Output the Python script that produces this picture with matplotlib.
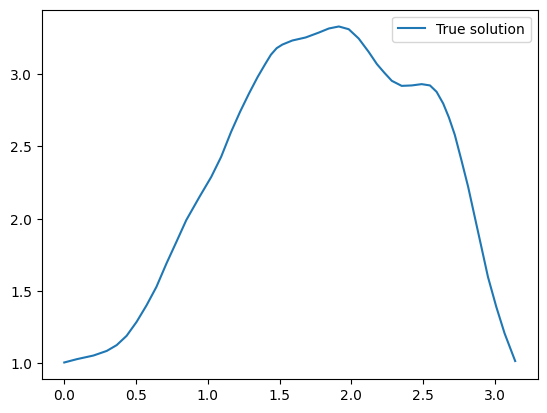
import matplotlib
matplotlib.use('Agg')
import matplotlib.pyplot as plt

# values
x = [0.0, 0.088, 0.203, 0.296, 0.365, 0.434, 0.504, 0.573, 0.642, 0.712,
     0.781, 0.85, 0.942, 1.024, 1.093, 1.162, 1.225, 1.287, 1.347, 1.40,
     1.44, 1.48, 1.52, 1.589, 1.682, 1.774, 1.843, 1.913, 1.982, 2.051, 2.121,
     2.178, 2.230, 2.282, 2.351, 2.421, 2.49, 2.548, 2.594, 2.64, 2.68,
     2.721, 2.767, 2.814, 2.86, 2.906, 2.952, 3.01, 3.068, 3.125, 3.1416]
y = [1.005, 1.028, 1.053, 1.085, 1.125, 1.189, 1.286, 1.40, 1.528, 1.69,
     1.839, 1.99, 2.151, 2.289, 2.428, 2.60, 2.74, 2.866, 2.98, 3.07,
     3.135, 3.18, 3.205, 3.233, 3.254, 3.288, 3.316, 3.33, 3.311, 3.247, 3.154,
     3.07, 3.01, 2.954, 2.919, 2.922, 2.931, 2.922, 2.878, 2.797, 2.70,
     2.58, 2.405, 2.22, 2.012, 1.805, 1.597, 1.39, 1.206, 1.058, 1.015]

fig, ax = plt.subplots()
ax.plot(x, y, label='True solution')
ax.legend()
fig.savefig('out.png', bbox_inches='tight')
